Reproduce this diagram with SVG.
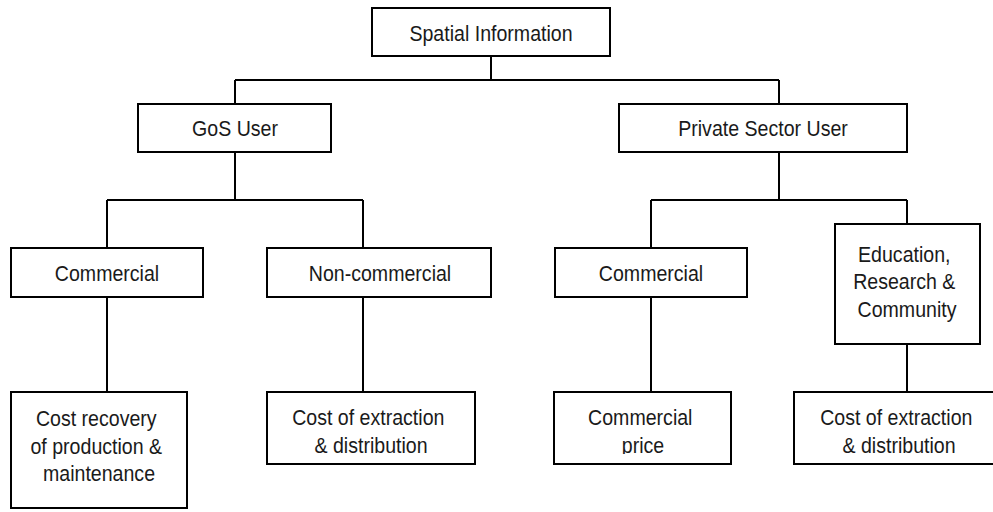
<svg xmlns="http://www.w3.org/2000/svg" width="993" height="512" viewBox="0 0 993 512">
  <style>
    .box { fill: #ffffff; stroke: #000000; stroke-width: 2; }
    .link { fill: none; stroke: #000000; stroke-width: 2; }
    .lbl { font-family: "Liberation Sans", Arial, sans-serif; font-size: 22px; fill: #1a1a1a; text-anchor: middle; }
  </style>
  <defs>
    <clipPath id="priceClip">
      <rect x="540" y="380" width="200" height="74"/>
    </clipPath>
  </defs>
  <rect width="993" height="512" fill="#ffffff"/>

  <g id="connectors">
    <path class="link" d="M491 56 V80 M235 80 H779 M235 80 V104 M779 80 V104"/>
    <path class="link" d="M235 152 V200 M107 200 H363 M107 200 V248 M363 200 V248"/>
    <path class="link" d="M779 152 V200 M651 200 H907 M651 200 V248 M907 200 V224"/>
    <path class="link" d="M107 297 V392 M363 297 V392 M651 297 V392 M907 344 V392"/>
  </g>

  <g id="spatial-information">
    <rect class="box" x="372" y="8" width="238" height="48"/>
    <text class="lbl" transform="translate(491 41) scale(0.89 1)">Spatial Information</text>
  </g>

  <g id="gos-user">
    <rect class="box" x="138" y="104" width="193" height="48"/>
    <text class="lbl" transform="translate(235 136) scale(0.89 1)">GoS User</text>
  </g>

  <g id="private-sector-user">
    <rect class="box" x="619" y="104" width="288" height="48"/>
    <text class="lbl" transform="translate(763 136) scale(0.89 1)">Private Sector User</text>
  </g>

  <g id="gos-commercial">
    <rect class="box" x="11" y="248" width="192" height="49"/>
    <text class="lbl" transform="translate(107 281) scale(0.89 1)">Commercial</text>
  </g>

  <g id="gos-non-commercial">
    <rect class="box" x="267" y="248" width="224" height="49"/>
    <text class="lbl" transform="translate(380 281) scale(0.89 1)">Non-commercial</text>
  </g>

  <g id="private-commercial">
    <rect class="box" x="555" y="248" width="192" height="49"/>
    <text class="lbl" transform="translate(651 281) scale(0.89 1)">Commercial</text>
  </g>

  <g id="education-research-community">
    <rect class="box" x="835" y="224" width="145" height="120"/>
    <text class="lbl" transform="translate(907 262) scale(0.89 1)">
      <tspan x="0" y="0">Education,</tspan>
      <tspan x="0" y="27.5">Research &amp;</tspan>
      <tspan x="0" y="55">Community</tspan>
    </text>
  </g>

  <g id="cost-recovery">
    <rect class="box" x="11" y="392" width="176" height="116"/>
    <text class="lbl" transform="translate(99 426) scale(0.89 1)">
      <tspan x="0" y="0">Cost recovery</tspan>
      <tspan x="0" y="28">of production &amp;</tspan>
      <tspan x="0" y="55">maintenance</tspan>
    </text>
  </g>

  <g id="gos-cost-extraction">
    <rect class="box" x="267" y="392" width="208" height="72"/>
    <text class="lbl" transform="translate(371 425) scale(0.89 1)">
      <tspan x="0" y="0">Cost of extraction</tspan>
      <tspan x="0" y="28">&amp; distribution</tspan>
    </text>
  </g>

  <g id="commercial-price">
    <rect class="box" x="554" y="392" width="177" height="72"/>
    <g clip-path="url(#priceClip)">
      <text class="lbl" transform="translate(643 425) scale(0.89 1)">
        <tspan x="0" y="0">Commercial</tspan>
        <tspan x="0" y="28">price</tspan>
      </text>
    </g>
  </g>

  <g id="private-cost-extraction">
    <rect class="box" x="794" y="392" width="210" height="72"/>
    <text class="lbl" transform="translate(899 425) scale(0.89 1)">
      <tspan x="0" y="0">Cost of extraction</tspan>
      <tspan x="0" y="28">&amp; distribution</tspan>
    </text>
  </g>
</svg>
